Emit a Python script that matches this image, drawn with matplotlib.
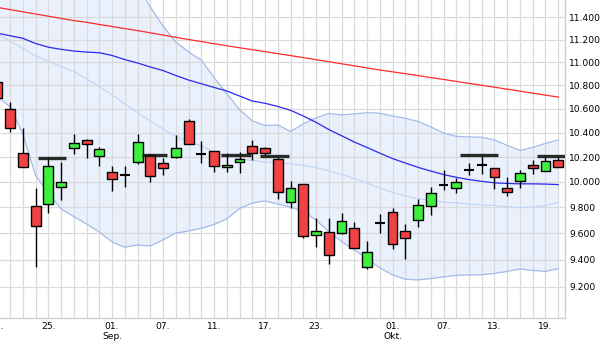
import numpy as np
import matplotlib
matplotlib.use('Agg')
import matplotlib.pyplot as plt
from matplotlib.ticker import FixedLocator, FixedFormatter, NullLocator

# trading days from 19.08. to 20.10. (index 0 = 19.08.)
opens = [10.83, 10.595, 10.231, 9.81, 9.824, 9.957, 10.272, 10.338, 10.209, 10.077,
         10.058, 10.163, 10.217, 10.15, 10.198, 10.495, 10.223, 10.248, 10.118, 10.158,
         10.289, 10.272, 10.182, 9.839, 9.981, 9.584, 9.607, 9.599, 9.638, 9.348,
         9.676, 9.761, 9.615, 9.702, 9.81, 9.978, 9.95, 10.096, 10.134, 10.11,
         9.95, 10.007, 10.134, 10.088, 10.179]
highs = [10.86, 10.654, 10.437, 9.95, 10.19, 10.163, 10.389, 10.345, 10.285, 10.128,
         10.128, 10.389, 10.225, 10.19, 10.381, 10.512, 10.332, 10.252, 10.231, 10.243,
         10.34, 10.28, 10.203, 10.005, 9.985, 9.715, 9.715, 9.758, 9.688, 9.543,
         9.746, 9.792, 9.668, 9.866, 9.962, 10.096, 10.029, 10.15, 10.21, 10.112,
         10.036, 10.096, 10.177, 10.211, 10.21]
lows = [10.66, 10.403, 10.12, 9.344, 9.754, 9.857, 10.225, 10.19, 10.131, 9.931,
        9.962, 10.147, 9.997, 10.058, 10.195, 10.305, 10.155, 10.082, 10.082, 10.074,
        10.174, 10.215, 9.863, 9.792, 9.562, 9.498, 9.366, 9.595, 9.486, 9.329,
        9.599, 9.477, 9.403, 9.65, 9.738, 9.934, 9.915, 10.053, 10.061, 9.942,
        9.891, 9.954, 10.064, 10.085, 10.118]
closes = [10.69, 10.437, 10.123, 9.656, 10.131, 10.002, 10.318, 10.305, 10.264, 10.021,
          10.058, 10.321, 10.045, 10.11, 10.272, 10.305, 10.223, 10.126, 10.134, 10.187,
          10.231, 10.231, 9.918, 9.95, 9.577, 9.615, 9.433, 9.692, 9.486, 9.456,
          9.676, 9.516, 9.562, 9.816, 9.913, 9.978, 9.997, 10.096, 10.134, 10.037,
          9.92, 10.069, 10.112, 10.166, 10.118]

# moving averages and bollinger bands
ma_long = [11.49, 11.47, 11.45, 11.43, 11.41, 11.39, 11.37, 11.355, 11.335, 11.317,
           11.298, 11.28, 11.26, 11.24, 11.22, 11.20, 11.182, 11.163, 11.145, 11.127,
           11.11, 11.093, 11.075, 11.058, 11.04, 11.022, 11.004, 10.986, 10.968, 10.95,
           10.932, 10.916, 10.9, 10.883, 10.866, 10.85, 10.833, 10.816, 10.8, 10.783,
           10.766, 10.749, 10.732, 10.715, 10.699]
ma_mid = [11.257, 11.234, 11.211, 11.165, 11.132, 11.113, 11.098, 11.089, 11.083, 11.059,
          11.023, 10.993, 10.958, 10.927, 10.884, 10.845, 10.813, 10.781, 10.751, 10.708,
          10.665, 10.646, 10.619, 10.587, 10.539, 10.486, 10.426, 10.375, 10.323, 10.278,
          10.232, 10.188, 10.152, 10.117, 10.087, 10.059, 10.037, 10.019, 10.005, 9.993,
          9.988, 9.985, 9.985, 9.983, 9.979]
bb_mid = [11.250, 11.187, 11.121, 11.055, 11.006, 10.963, 10.919, 10.854, 10.789, 10.717,
          10.640, 10.568, 10.498, 10.431, 10.369, 10.324, 10.291, 10.242, 10.205, 10.185,
          10.173, 10.160, 10.152, 10.144, 10.132, 10.116, 10.088, 10.060, 10.027, 9.991,
          9.952, 9.917, 9.889, 9.869, 9.854, 9.842, 9.834, 9.826, 9.818, 9.814,
          9.806, 9.798, 9.802, 9.814, 9.838]
bb_upper = [11.837, 11.884, 11.98, 12.123, 12.24, 12.279, 12.279, 12.24, 12.143, 12.027,
            11.884, 11.697, 11.494, 11.322, 11.178, 11.090, 11.019, 10.867, 10.729, 10.593,
            10.498, 10.460, 10.464, 10.410, 10.473, 10.523, 10.560, 10.548, 10.556, 10.567,
            10.562, 10.539, 10.520, 10.493, 10.448, 10.398, 10.369, 10.365, 10.362, 10.340,
            10.295, 10.254, 10.279, 10.311, 10.340]
bb_lower = [10.700, 10.617, 10.389, 10.052, 9.913, 9.787, 9.729, 9.671, 9.609, 9.534,
            9.494, 9.511, 9.503, 9.549, 9.602, 9.617, 9.638, 9.667, 9.710, 9.791,
            9.834, 9.850, 9.826, 9.802, 9.768, 9.702, 9.613, 9.537, 9.473, 9.409,
            9.339, 9.287, 9.255, 9.250, 9.260, 9.272, 9.284, 9.287, 9.288, 9.298,
            9.313, 9.331, 9.320, 9.313, 9.333]

# hand drawn marks around 10.20
mark_start = [3.21, 11.33, 17.55, 20.6, 36.3, 42.3]
mark_end = [5.39, 13.29, 19.9, 22.9, 39.3, 44.6]
mark_level = [10.19, 10.217, 10.217, 10.205, 10.217, 10.211]

tick_days = [0, 4, 9, 13, 17, 21, 25, 31, 35, 39, 43]
tick_labels = ['19.', '25.', '01.\nSep.', '07.', '11.', '17.', '23.',
               '01.\nOkt.', '07.', '13.', '19.']
price_ticks = [9.2, 9.4, 9.6, 9.8, 10.0, 10.2, 10.4, 10.6, 10.8, 11.0, 11.2, 11.4]

o, h, l, c = map(np.array, (opens, highs, lows, closes))
days = np.arange(len(o))

fig = plt.figure(figsize=(6.15, 3.59), dpi=100)
W, H = 615, 359
ax = fig.add_axes([-2.7 / W, (H - 317.7) / H, (565 + 2.7) / W, 317.7 / H])
ax.set_yscale('log')

# bands
ax.fill_between(days, bb_lower, bb_upper, color='#EAF1FC', zorder=0.3, lw=0)
ax.plot(days, bb_upper, color='#A3BBE8', lw=0.9, zorder=1)
ax.plot(days, bb_lower, color='#A3BBE8', lw=0.9, zorder=1)
ax.plot(days, bb_mid, color='#C3D6F6', lw=0.9, zorder=1)
ax.plot(days, ma_long, color='#FF2A2A', lw=0.9, zorder=2)
ax.plot(days, ma_mid, color='#2A2AF0', lw=0.9, zorder=2)

# candles
w = 0.78
ax.vlines(days, l, h, color='black', lw=1.0, zorder=3)
up = c > o
down = c < o
flat = c == o
ax.bar(days[up], (c - o)[up], bottom=o[up], width=w, color='#3EF03E',
       edgecolor='black', lw=1.0, zorder=4)
ax.bar(days[down], (o - c)[down], bottom=c[down], width=w, color='#F04242',
       edgecolor='black', lw=1.0, zorder=4)
ax.hlines(o[flat], days[flat] - w / 2, days[flat] + w / 2, color='black',
          lw=1.5, zorder=4)

ax.hlines(mark_level, mark_start, mark_end, color='#151515', lw=2.4,
          alpha=0.9, zorder=5)

ax.set_xlim(0, 44.53)
ax.set_ylim(8.976, 11.558)

ax.xaxis.set_major_locator(FixedLocator(tick_days))
ax.xaxis.set_major_formatter(FixedFormatter(tick_labels))
ax.xaxis.set_minor_locator(FixedLocator(days))
ax.yaxis.set_major_locator(FixedLocator(price_ticks))
ax.yaxis.set_major_formatter(FixedFormatter(['%.3f' % p for p in price_ticks]))
ax.yaxis.set_minor_locator(NullLocator())
ax.yaxis.tick_right()

ax.grid(True, which='minor', axis='x', color='#DADADA', lw=0.9)
ax.grid(True, which='major', axis='both', color='#DADADA', lw=0.9)
ax.set_axisbelow(True)
ax.tick_params(axis='both', which='both', length=0, labelsize=6.6,
               labelcolor='black')
ax.tick_params(axis='x', pad=3)
ax.tick_params(axis='y', pad=3)

for side in ('top', 'left'):
    ax.spines[side].set_visible(False)
for side in ('bottom', 'right'):
    ax.spines[side].set_color('#CFCFCF')
    ax.spines[side].set_linewidth(1)

fig.savefig('out.png', dpi=100)
